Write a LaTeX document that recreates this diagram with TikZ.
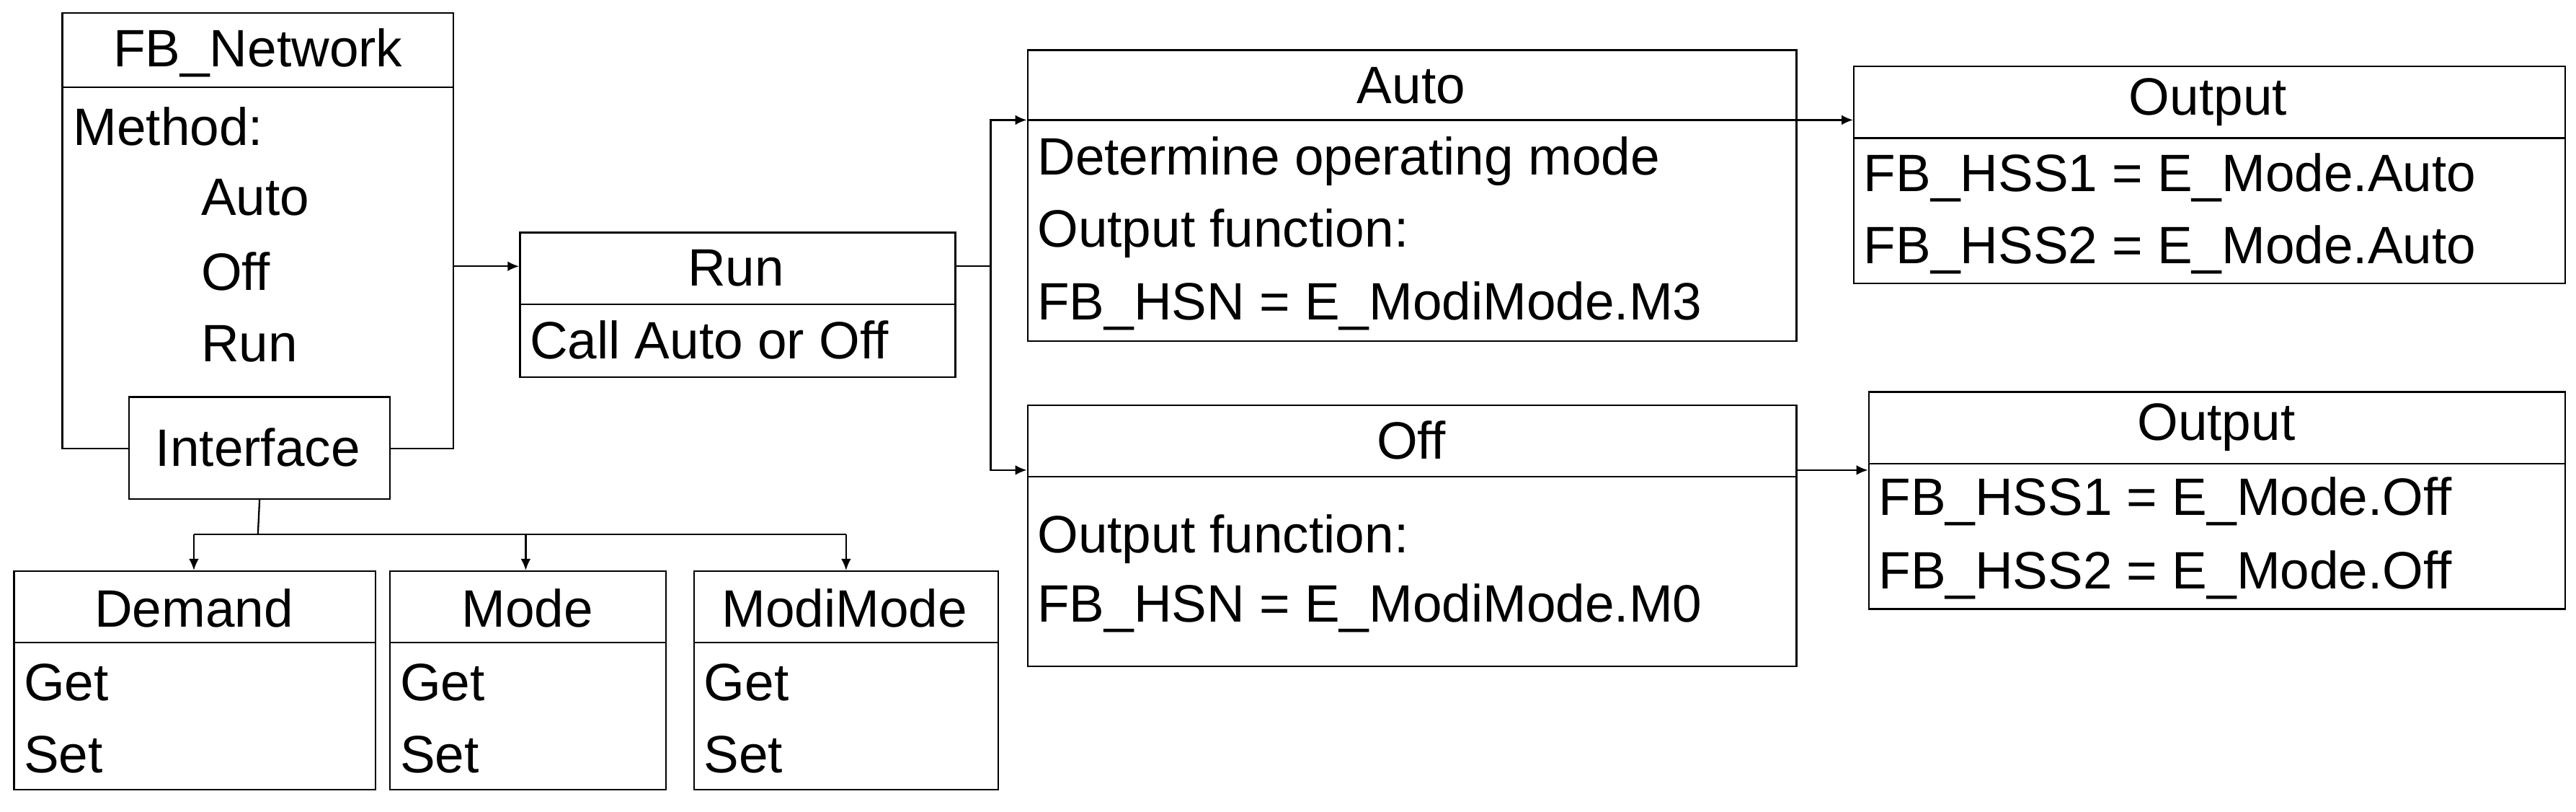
\documentclass[tikz,border=0pt]{standalone}
\usepackage{fontspec}
\setmainfont{Liberation Sans}
\usetikzlibrary{arrows.meta}
\begin{document}
\begin{tikzpicture}[x=1pt,y=-1pt,line width=1pt,
 box/.style={draw,inner sep=0,anchor=north west},
 txt/.style={inner sep=0,anchor=west,font=\fontsize{32}{36}\selectfont},
 ttl/.style={inner sep=0,anchor=center,font=\fontsize{32}{36}\selectfont},
 arr/.style={-{Latex[length=7pt,width=6pt]}}]
\useasboundingbox (0,0) rectangle (1568,494);
\def\bx#1#2#3#4#5#6{\node[box,minimum width=#4-#2,minimum height=#5-#3] (#1) at (#2,#3) {};\draw (#2,#6) -- (#4,#6);}
% FB_Network
\draw (78,273) -- (38,273) -- (38,8) -- (276,8) -- (276,273) -- (237,273);
\draw (38,53) -- (276,53);
\coordinate (fbr) at (276,162);
\node[ttl] (t1) at (157,32) {FB\_Network};
\node[txt] (m1) at (44,77) {Method:};
\node[txt] (m2) at (122,120) {Auto};
\node[txt] (m3) at (122,165) {Off};
\node[txt] (m4) at (122,209) {Run};
\node[box,minimum width=159,minimum height=62,fill=white] (iface) at (78,241) {};
\node[ttl] (t2) at (157,272) {Interface};
% Run
\bx{run}{316}{141}{581}{229}{185}
\node[ttl] (t3) at (448,163) {Run};
\node[txt] (r1) at (322,207) {Call Auto or Off};
% Auto
\bx{auto}{625}{30}{1093}{207}{73}
\node[ttl] (t4) at (859,52) {Auto};
\node[txt] (a1) at (631,98) {Determine operating mode};
\node[txt] (a2) at (631,142) {Output function:};
\node[txt] (a3) at (631,186) {FB\_HSN = E\_ModiMode.M3};
% Off
\bx{off}{625}{246}{1093}{405}{290}
\node[ttl] (t5) at (859,268) {Off};
\node[txt] (o1) at (631,328) {Output function:};
\node[txt] (o2) at (631,370) {FB\_HSN = E\_ModiMode.M0};
% Outputs
\bx{out1}{1128}{40}{1561}{172}{84}
\node[ttl] (t6) at (1344,62) {Output};
\node[txt] (p1) at (1134,108) {FB\_HSS1 = E\_Mode.Auto};
\node[txt] (p2) at (1134,152) {FB\_HSS2 = E\_Mode.Auto};
\bx{out2}{1137}{238}{1561}{370}{282}
\node[ttl] (t7) at (1349,260) {Output};
\node[txt] (q1) at (1143,305) {FB\_HSS1 = E\_Mode.Off};
\node[txt] (q2) at (1143,350) {FB\_HSS2 = E\_Mode.Off};
% bottom boxes
\bx{dem}{8}{347}{228}{480}{391}
\node[ttl] (t8) at (118,370) {Demand};
\bx{mode}{237}{347}{405}{480}{391}
\node[ttl] (t9) at (321,370) {Mode};
\bx{modi}{422}{347}{607}{480}{391}
\node[ttl] (t10) at (514,370) {ModiMode};
\foreach \x/\n in {14/d,243/m,428/k}{
 \node[txt] (g\n) at (\x,415) {Get};
 \node[txt] (s\n) at (\x,459) {Set};}
% connectors
\draw[arr] (fbr) -- (run.west |- fbr);
\coordinate (j) at (603,162);
\draw (run.east |- j) -- (j);
\draw[arr] (j) |- (auto.west |- 0,73);
\draw[arr] (j) |- (off.west |- 0,286);
\draw[arr] (auto.east |- 0,73) -- (out1.west |- 0,73);
\draw[arr] (off.east |- 0,286) -- (out2.west |- 0,286);
\coordinate (b) at (157,325);
\draw (iface.south) -- (b);
\draw (118,325) -- (515,325);
\draw[arr] (118,325) -- (dem.north -| 118,0);
\draw[arr] (320,325) -- (mode.north -| 320,0);
\draw[arr] (515,325) -- (modi.north -| 515,0);
\end{tikzpicture}
\end{document}
